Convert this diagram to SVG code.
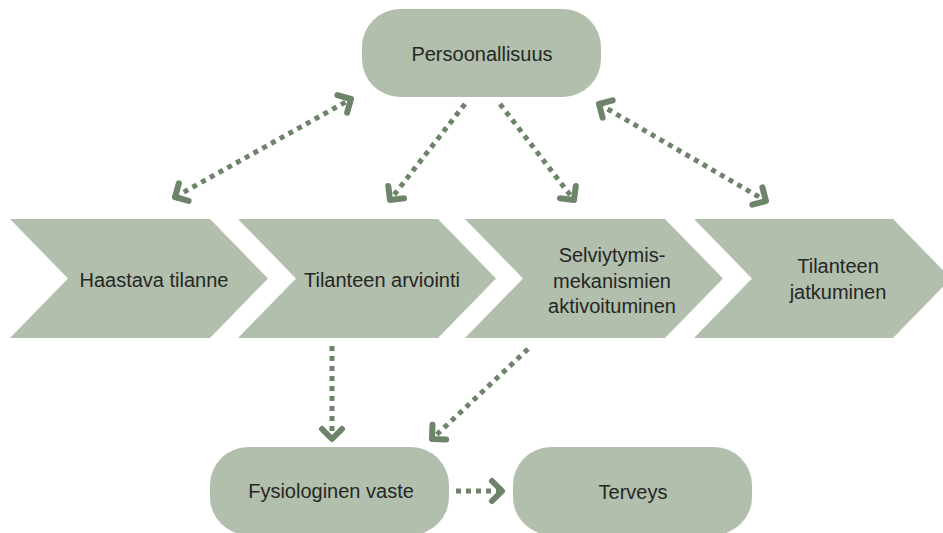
<svg xmlns="http://www.w3.org/2000/svg" width="943" height="533" viewBox="0 0 943 533">
<style>
.node{fill:#b1bfac;}
.lbl{font-family:"Liberation Sans",Arial,sans-serif;font-size:20px;fill:#262626;text-anchor:middle;}
.con{fill:none;stroke:#6e846a;stroke-width:5;stroke-dasharray:5 5;}
.head{fill:none;stroke:#6e846a;stroke-width:6;stroke-linecap:round;stroke-linejoin:round;stroke-dasharray:none;}
</style>
<defs>
<marker id="ah" markerUnits="userSpaceOnUse" markerWidth="30" markerHeight="30" viewBox="-15 -15 30 30" refX="0" refY="0" orient="auto-start-reverse" overflow="visible">
<path class="head" d="M -10 -10 L 0 0 L -10 10"/>
</marker>
</defs>
<rect width="943" height="533" fill="#ffffff"/>
<g id="persoonallisuus">
<rect class="node" x="362" y="9" width="239" height="88" rx="38"/>
<text class="lbl" x="482" y="61">Persoonallisuus</text>
</g>
<g id="haastava-tilanne">
<polygon class="node" points="10,219 210,219 268,278.5 210,338 10,338 68,278.5"/>
<text class="lbl" x="154" y="287">Haastava tilanne</text>
</g>
<g id="tilanteen-arviointi">
<polygon class="node" points="238,219 438,219 496,278.5 438,338 238,338 296,278.5"/>
<text class="lbl" x="382" y="287">Tilanteen arviointi</text>
</g>
<g id="selviytymismekanismien-aktivoituminen">
<polygon class="node" points="465,219 665,219 723,278.5 665,338 465,338 523,278.5"/>
<text class="lbl" x="612" y="262">Selviytymis-</text>
<text class="lbl" x="612" y="288">mekanismien</text>
<text class="lbl" x="612" y="313">aktivoituminen</text>
</g>
<g id="tilanteen-jatkuminen">
<polygon class="node" points="694,219 893,219 951,278.5 893,338 694,338 752,278.5"/>
<text class="lbl" x="838" y="273">Tilanteen</text>
<text class="lbl" x="838" y="299">jatkuminen</text>
</g>
<g id="fysiologinen-vaste">
<rect class="node" x="210" y="447" width="239" height="88" rx="38"/>
<text class="lbl" x="331" y="498">Fysiologinen vaste</text>
</g>
<g id="terveys">
<rect class="node" x="513" y="447" width="239" height="88" rx="38"/>
<text class="lbl" x="633" y="499">Terveys</text>
</g>
<g id="connectors">
<line class="con" x1="175" y1="197" x2="351" y2="99" marker-start="url(#ah)" marker-end="url(#ah)"/>
<line class="con" x1="465" y1="104" x2="390" y2="200" marker-end="url(#ah)"/>
<line class="con" x1="500" y1="104" x2="574" y2="200" marker-end="url(#ah)"/>
<line class="con" x1="599" y1="104" x2="766" y2="201" marker-start="url(#ah)" marker-end="url(#ah)"/>
<line class="con" x1="332" y1="346" x2="332" y2="439" marker-end="url(#ah)"/>
<line class="con" x1="528" y1="349" x2="432" y2="439" marker-end="url(#ah)"/>
<line class="con" x1="456" y1="491" x2="502" y2="491" marker-end="url(#ah)"/>
</g>
</svg>
